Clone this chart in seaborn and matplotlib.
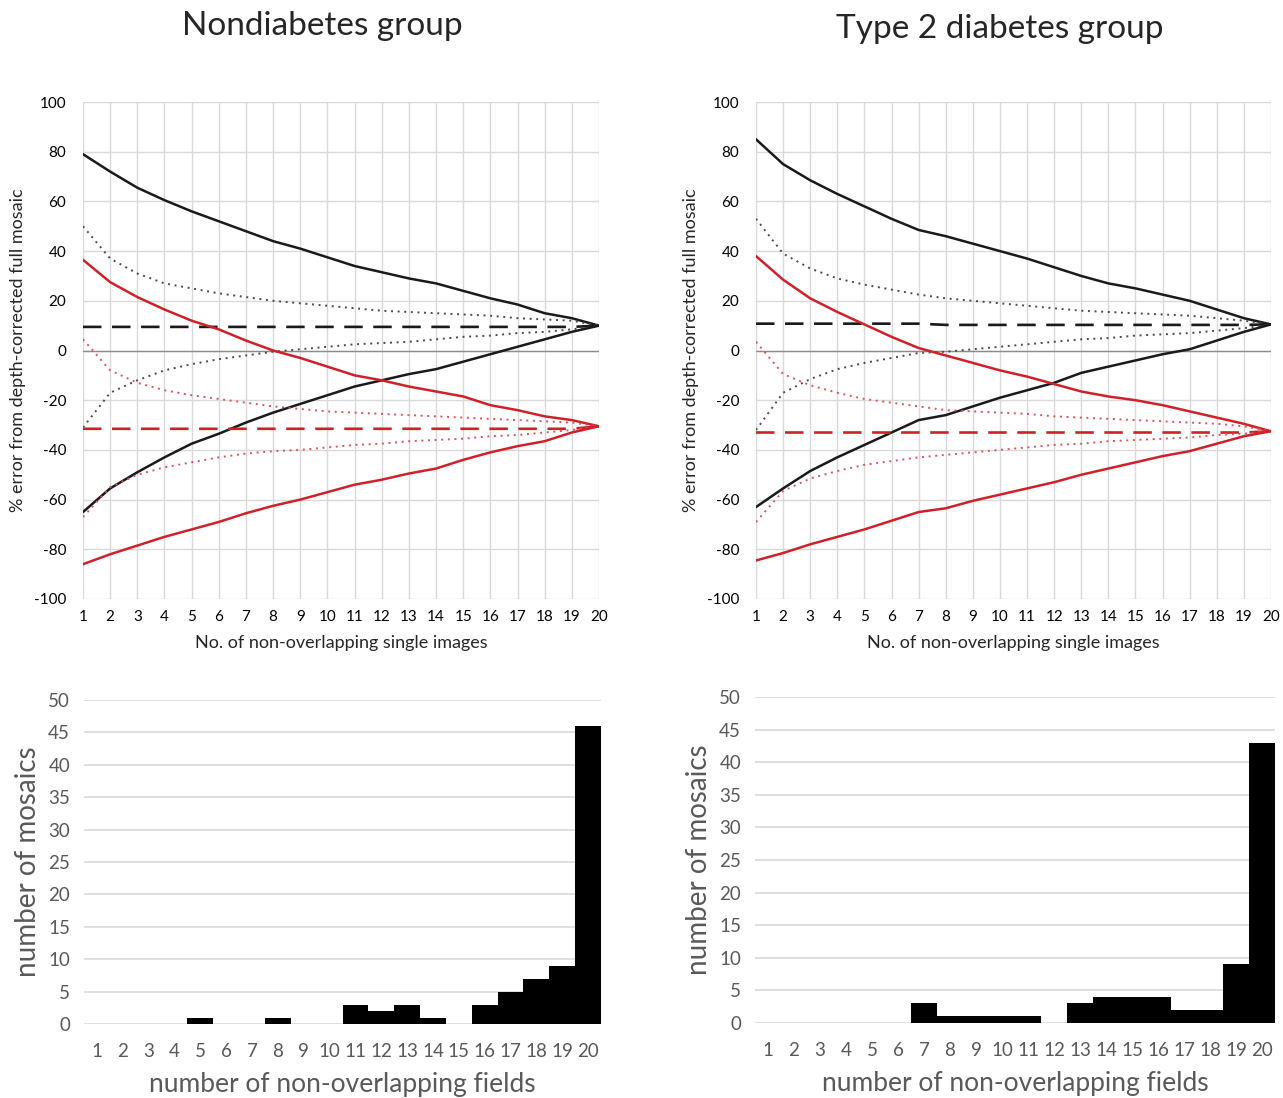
import numpy as np
import pandas as pd
import matplotlib
matplotlib.use("Agg")
import matplotlib.pyplot as plt
import seaborn as sns

sns.set_theme(style="white")
plt.rcParams['font.family'] = ['Lato', 'DejaVu Sans']
plt.rcParams['axes.unicode_minus'] = False

# ---------------- data ----------------
images = list(range(1, 21))

# Nondiabetes group
nd_black_max = [79, 72, 65.5, 60.5, 56, 52, 48, 44, 41, 37.5, 34, 31.5, 29, 27, 24, 21, 18.5, 15, 13, 10]
nd_black_sd_hi = [50, 37, 31, 27, 25, 23, 21.5, 20, 19, 18, 17, 16, 15.5, 15, 14.5, 14, 13, 12.5, 12, 10]
nd_black_mean = [9.5] * 19 + [10]
nd_black_sd_lo = [-31, -17, -12, -8, -5.5, -3.5, -2, -0.5, 0.5, 1.5, 2.5, 3, 3.5, 4.5, 5.5, 6, 7, 7.5, 8.5, 10]
nd_black_min = [-65, -55.5, -49, -43, -37.5, -33.5, -29, -25, -21.5, -18, -14.5, -12, -9.5, -7.5, -4.5, -1.5, 1.5, 4.5, 7.5, 10]
nd_red_max = [36.5, 27.5, 21.5, 16.5, 12, 8.5, 4, 0, -3, -6.5, -10, -12, -14.5, -16.5, -18.5, -22, -24, -26.5, -28, -30.5]
nd_red_sd_hi = [4.5, -8, -13, -16, -18, -19.5, -21, -22.5, -23.5, -24.5, -25, -25.5, -26, -26.5, -27, -27.5, -28, -28.5, -29, -30.5]
nd_red_mean = [-31.5] * 19 + [-30.5]
nd_red_sd_lo = [-67, -55, -50, -47, -45, -43, -41.5, -40.5, -40, -39, -38, -37.5, -36.5, -36, -35.5, -34.5, -34, -33, -32, -30.5]
nd_red_min = [-86, -82, -78.5, -75, -72, -69, -65.5, -62.5, -60, -57, -54, -52, -49.5, -47.5, -44, -41, -38.5, -36.5, -33, -30.5]

# Type 2 diabetes group
t2_black_max = [85, 75, 68.5, 63, 58, 53, 48.5, 46, 43, 40, 37, 33.5, 30, 27, 25, 22.5, 20, 16.5, 13, 10.5]
t2_black_sd_hi = [53, 39, 33, 29, 26.5, 24.5, 22.5, 21, 20, 19, 18, 17, 16, 15.5, 15, 14.5, 14, 13, 12, 10.5]
t2_black_mean = [10.8] * 7 + [10.3] * 12 + [10.5]
t2_black_sd_lo = [-32, -17, -11.5, -7.5, -5, -3, -1, -0.5, 0.5, 1.5, 2.5, 3.5, 4.5, 5, 6, 6.5, 7, 8, 9, 10.5]
t2_black_min = [-63, -55.5, -48.5, -43, -38, -33, -28, -26, -22.5, -19, -16, -13, -9, -6.5, -4, -1.5, 0.5, 4, 7.5, 10.5]
t2_red_max = [38, 28.5, 21, 15.5, 10.5, 5.5, 1, -2, -5, -8, -10.5, -13.5, -16.5, -18.5, -20, -22, -24.5, -27, -29.5, -32.5]
t2_red_sd_hi = [3.5, -9.5, -14, -17, -19.5, -21, -22.5, -24, -24.5, -25, -25.5, -26.5, -27, -27.5, -28, -28.5, -29, -29.5, -30.5, -32.5]
t2_red_mean = [-33] * 19 + [-32.5]
t2_red_sd_lo = [-69, -56.5, -51.5, -48.5, -46, -44.5, -43, -42, -41, -40, -39, -38, -37.5, -36.5, -36, -35.5, -35, -34, -33.5, -32.5]
t2_red_min = [-84.5, -81.5, -78, -75, -72, -68.5, -65, -63.5, -60.5, -58, -55.5, -53, -50, -47.5, -45, -42.5, -40.5, -37.5, -34.5, -32.5]

# Histograms
fields = [str(i) for i in range(1, 21)]
nd_counts = [0, 0, 0, 0, 1, 0, 0, 1, 0, 0, 3, 2, 3, 1, 0, 3, 5, 7, 9, 46]
t2_counts = [0, 0, 0, 0, 0, 0, 3, 1, 1, 1, 1, 0, 3, 4, 4, 4, 2, 2, 9, 43]

BLACK = "#1a1a1a"
BLACK_DOT = "#4a4a4a"
RED = "#d0212b"
RED_DOT = "#d9545b"
GRID = "#d9d9d9"
GRAY_TXT = "#595959"

styles = {
    "max": dict(ls="-", lw=1.8, dot=False),
    "sd_hi": dict(ls=(0, (1, 2.4)), lw=1.4, dot=True),
    "mean": dict(ls=(0, (7, 4)), lw=1.9, dot=False),
    "sd_lo": dict(ls=(0, (1, 2.4)), lw=1.4, dot=True),
    "min": dict(ls="-", lw=1.8, dot=False),
}

fig = plt.figure(figsize=(12.83, 10.98), dpi=100)

def W(px):
    return px / 1283

def H(px):
    return px / 1098

def line_panel(rect, black, red):
    ax = fig.add_axes(rect)
    for group, color, dcolor in ((black, BLACK, BLACK_DOT), (red, RED, RED_DOT)):
        for key, vals in group.items():
            st = styles[key]
            df = pd.DataFrame({"x": images, "y": vals})
            sns.lineplot(data=df, x="x", y="y", ax=ax,
                         color=dcolor if st["dot"] else color,
                         linestyle=st["ls"], linewidth=st["lw"], zorder=3)
    ax.set_xlim(1, 20)
    ax.set_ylim(-100, 100)
    ax.set_xticks(images)
    ax.set_yticks(range(-100, 101, 20))
    ax.grid(True, color=GRID, lw=1)
    ax.axhline(0, color="#8c8c8c", lw=1, zorder=2)
    for s in ax.spines.values():
        s.set_visible(False)
    ax.tick_params(axis="both", length=0, labelsize=11, colors="black")
    ax.tick_params(axis="x", pad=8)
    ax.tick_params(axis="y", pad=12)
    ax.set_xlabel("No. of non-overlapping single images", fontsize=13, labelpad=8)
    ax.set_ylabel("% error from depth-corrected full mosaic", fontsize=13, labelpad=6)
    return ax

def hist_panel(rect, counts):
    ax = fig.add_axes(rect)
    df = pd.DataFrame({"field": fields, "count": counts})
    sns.barplot(data=df, x="field", y="count", ax=ax, color="black",
                width=1.0, saturation=1, edgecolor="black", linewidth=0, zorder=3)
    ax.set_xlim(-0.5, 19.5)
    ax.set_ylim(0, 50)
    ax.set_yticks(range(0, 51, 5))
    ax.yaxis.grid(True, color=GRID, lw=1.2)
    ax.xaxis.grid(False)
    for s in ax.spines.values():
        s.set_visible(False)
    ax.tick_params(axis="both", length=0, labelsize=13.5, colors=GRAY_TXT)
    ax.tick_params(axis="x", pad=14)
    ax.tick_params(axis="y", pad=10)
    ax.set_xlabel("number of non-overlapping fields", fontsize=19, color=GRAY_TXT, labelpad=8)
    ax.set_ylabel("number of mosaics", fontsize=20, color=GRAY_TXT, labelpad=5)
    return ax

ax1 = line_panel([W(83), H(1098 - 599), W(599 - 83), H(599 - 102)],
                 dict(max=nd_black_max, sd_hi=nd_black_sd_hi, mean=nd_black_mean,
                      sd_lo=nd_black_sd_lo, min=nd_black_min),
                 dict(max=nd_red_max, sd_hi=nd_red_sd_hi, mean=nd_red_mean,
                      sd_lo=nd_red_sd_lo, min=nd_red_min))
ax2 = line_panel([W(756), H(1098 - 599), W(1271 - 756), H(599 - 102)],
                 dict(max=t2_black_max, sd_hi=t2_black_sd_hi, mean=t2_black_mean,
                      sd_lo=t2_black_sd_lo, min=t2_black_min),
                 dict(max=t2_red_max, sd_hi=t2_red_sd_hi, mean=t2_red_mean,
                      sd_lo=t2_red_sd_lo, min=t2_red_min))
ax3 = hist_panel([W(84), H(1098 - 1024), W(601 - 84), H(1024 - 700)], nd_counts)
ax4 = hist_panel([W(755), H(1098 - 1023), W(1275 - 755), H(1023 - 697)], t2_counts)

fig.text(W(322), 1 - H(26), "Nondiabetes group", ha="center", va="center", fontsize=24)
fig.text(W(1000), 1 - H(29), "Type 2 diabetes group", ha="center", va="center", fontsize=24)

fig.savefig("out.png", dpi=100, facecolor="white")
